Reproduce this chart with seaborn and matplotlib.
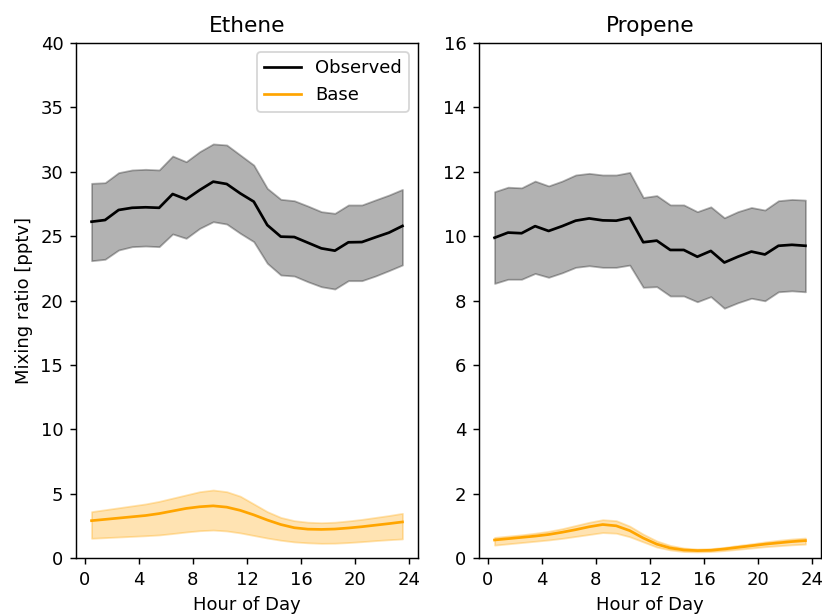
import numpy as np
import pandas as pd
import matplotlib
matplotlib.use("Agg")
import matplotlib.pyplot as plt
import seaborn as sns

hours = [h + 0.5 for h in range(24)]

# Ethene observed
eth_obs = [26.12, 26.25, 27.03, 27.2, 27.24, 27.2, 28.27, 27.86, 28.58, 29.23, 29.05, 28.32,
           27.68, 25.86, 24.96, 24.93, 24.49, 24.05, 23.87, 24.52, 24.54, 24.91, 25.27, 25.79]
eth_obs_hi = [29.1, 29.15, 29.93, 30.14, 30.19, 30.14, 31.22, 30.78, 31.56, 32.16, 32.08, 31.3,
              30.52, 28.71, 27.86, 27.75, 27.34, 26.9, 26.77, 27.42, 27.42, 27.81, 28.19, 28.63]
eth_obs_lo = [23.09, 23.2, 23.92, 24.18, 24.23, 24.18, 25.17, 24.83, 25.6, 26.12, 25.94, 25.22,
              24.57, 22.89, 21.98, 21.9, 21.46, 21.07, 20.89, 21.54, 21.54, 21.9, 22.32, 22.76]
# Ethene base
eth_base = [2.9, 3.0, 3.1, 3.2, 3.3, 3.45, 3.65, 3.85, 3.98, 4.05, 3.95, 3.7,
            3.35, 2.95, 2.6, 2.35, 2.24, 2.22, 2.25, 2.33, 2.43, 2.55, 2.67, 2.8]
eth_base_hi = [3.6, 3.75, 3.9, 4.05, 4.2, 4.4, 4.65, 4.9, 5.15, 5.28, 5.15, 4.8,
               4.2, 3.6, 3.15, 2.9, 2.78, 2.74, 2.78, 2.88, 3.0, 3.15, 3.3, 3.47]
eth_base_lo = [1.53, 1.58, 1.63, 1.68, 1.73, 1.79, 1.9, 2.02, 2.12, 2.17, 2.1, 1.95,
               1.75, 1.55, 1.38, 1.25, 1.18, 1.14, 1.15, 1.2, 1.27, 1.35, 1.42, 1.48]

# Propene observed
pro_obs = [9.95, 10.11, 10.09, 10.31, 10.16, 10.31, 10.48, 10.55, 10.49, 10.48, 10.57, 9.81,
           9.86, 9.57, 9.57, 9.36, 9.54, 9.18, 9.36, 9.52, 9.43, 9.7, 9.73, 9.7]
pro_obs_hi = [11.38, 11.52, 11.5, 11.71, 11.56, 11.71, 11.9, 11.95, 11.9, 11.9, 11.98, 11.2,
              11.26, 10.97, 10.97, 10.76, 10.91, 10.57, 10.76, 10.89, 10.81, 11.1, 11.14, 11.12]
pro_obs_lo = [8.53, 8.66, 8.66, 8.84, 8.72, 8.86, 9.03, 9.08, 9.03, 9.03, 9.1, 8.41,
              8.43, 8.14, 8.14, 7.96, 8.12, 7.76, 7.93, 8.07, 7.99, 8.27, 8.3, 8.27]
# Propene base
pro_base = [0.56, 0.6, 0.64, 0.68, 0.73, 0.8, 0.88, 0.97, 1.04, 1.0, 0.85, 0.62,
            0.43, 0.31, 0.25, 0.23, 0.24, 0.28, 0.33, 0.38, 0.43, 0.47, 0.51, 0.54]
pro_base_hi = [0.64, 0.68, 0.72, 0.77, 0.83, 0.91, 1.01, 1.11, 1.19, 1.16, 0.99, 0.74,
               0.53, 0.39, 0.31, 0.28, 0.29, 0.33, 0.39, 0.44, 0.5, 0.55, 0.59, 0.62]
pro_base_lo = [0.4, 0.44, 0.48, 0.52, 0.56, 0.61, 0.67, 0.73, 0.79, 0.77, 0.66, 0.5,
               0.34, 0.25, 0.2, 0.19, 0.2, 0.23, 0.27, 0.31, 0.35, 0.38, 0.41, 0.43]

titles = ["Ethene", "Propene"]
ylims = [40, 16]

DPI = 130
fig = plt.figure(figsize=(822 / DPI, 614 / DPI), dpi=DPI)
ax1 = fig.add_axes([76 / 822, 56 / 614, 342 / 822, 515 / 614])
ax2 = fig.add_axes([479 / 822, 56 / 614, 342 / 822, 515 / 614])

panels = [
    (ax1, eth_obs, eth_obs_lo, eth_obs_hi, eth_base, eth_base_lo, eth_base_hi),
    (ax2, pro_obs, pro_obs_lo, pro_obs_hi, pro_base, pro_base_lo, pro_base_hi),
]

for i, (ax, obs, olo, ohi, base, blo, bhi) in enumerate(panels):
    df = pd.DataFrame({"hour": hours, "obs": obs, "base": base})
    ax.fill_between(hours, olo, ohi, color="k", alpha=0.3)
    sns.lineplot(data=df, x="hour", y="obs", color="k", ax=ax, label="Observed", lw=1.5)
    ax.fill_between(hours, blo, bhi, color="orange", alpha=0.3)
    sns.lineplot(data=df, x="hour", y="base", color="orange", ax=ax, label="Base", lw=1.5)
    ax.set_ylim(0, ylims[i])
    ax.set_xticks([0, 4, 8, 12, 16, 20, 24])
    ax.set_title(titles[i], fontsize=12)
    ax.set_xlabel("Hour of Day", fontsize=10)
    ax.set_ylabel("")
    if i == 0:
        ax.set_ylabel("Mixing ratio [pptv]", fontsize=10)
        ax.legend(loc="upper right", fontsize=10)
    else:
        ax.get_legend().remove()

fig.savefig("out.png", dpi=DPI)
